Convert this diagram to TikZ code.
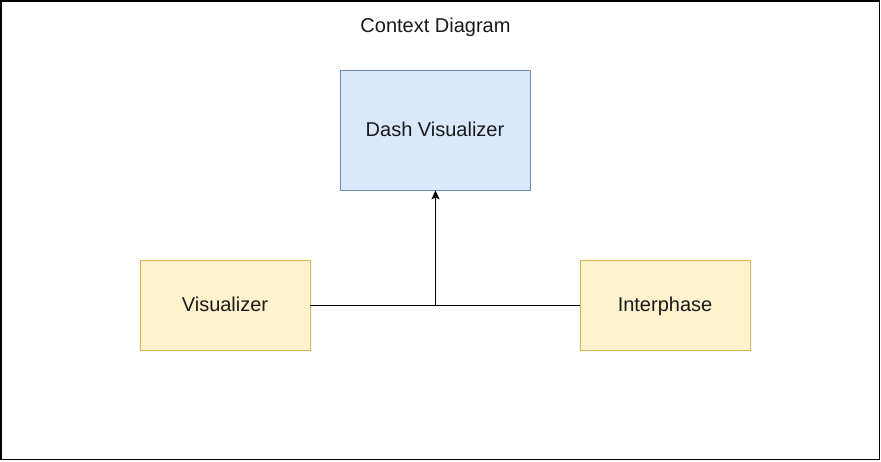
\documentclass[tikz,border=0pt]{standalone}
\usepackage{fontspec}
\setmainfont{Liberation Sans}
\usetikzlibrary{arrows.meta}
\definecolor{bluefill}{HTML}{DAE8FC}
\definecolor{bluedraw}{HTML}{6C8EBF}
\definecolor{yelfill}{HTML}{FFF2CC}
\definecolor{yeldraw}{HTML}{D6B656}
\definecolor{txt}{HTML}{1A1A1A}
\tikzset{
  bluebox/.style={draw=bluedraw, fill=bluefill, line width=0.8pt, minimum width=190pt, minimum height=120pt, inner sep=0pt, text=txt},
  yelbox/.style={draw=yeldraw, fill=yelfill, line width=0.8pt, minimum width=170pt, minimum height=90pt, inner sep=0pt, text=txt},
  conn/.style={line width=1pt, black},
  big/.style={font=\fontsize{20}{24}\selectfont, text depth=2pt}
}
\begin{document}
\begin{tikzpicture}[x=1pt, y=-1pt]
\useasboundingbox (0,0) rectangle (881,461);
\draw[line width=1.5pt] (0.75,0.75) rectangle (879.5,459.5);
\node[big, text=txt] (title) at (435.5,26) {Context Diagram};
\node[bluebox, big] (dash) at (435,130) {Dash Visualizer};
\node[yelbox, big] (vis) at (225,305) {Visualizer};
\node[yelbox, big] (inter) at (665,305) {Interphase};
\coordinate (j) at (435.5,305);
\draw[conn] (vis.east) -- (inter.west);
\draw[conn, -{Stealth[length=9pt, width=8pt, inset=2pt]}] (j) -- (j |- dash.south);
\end{tikzpicture}
\end{document}
